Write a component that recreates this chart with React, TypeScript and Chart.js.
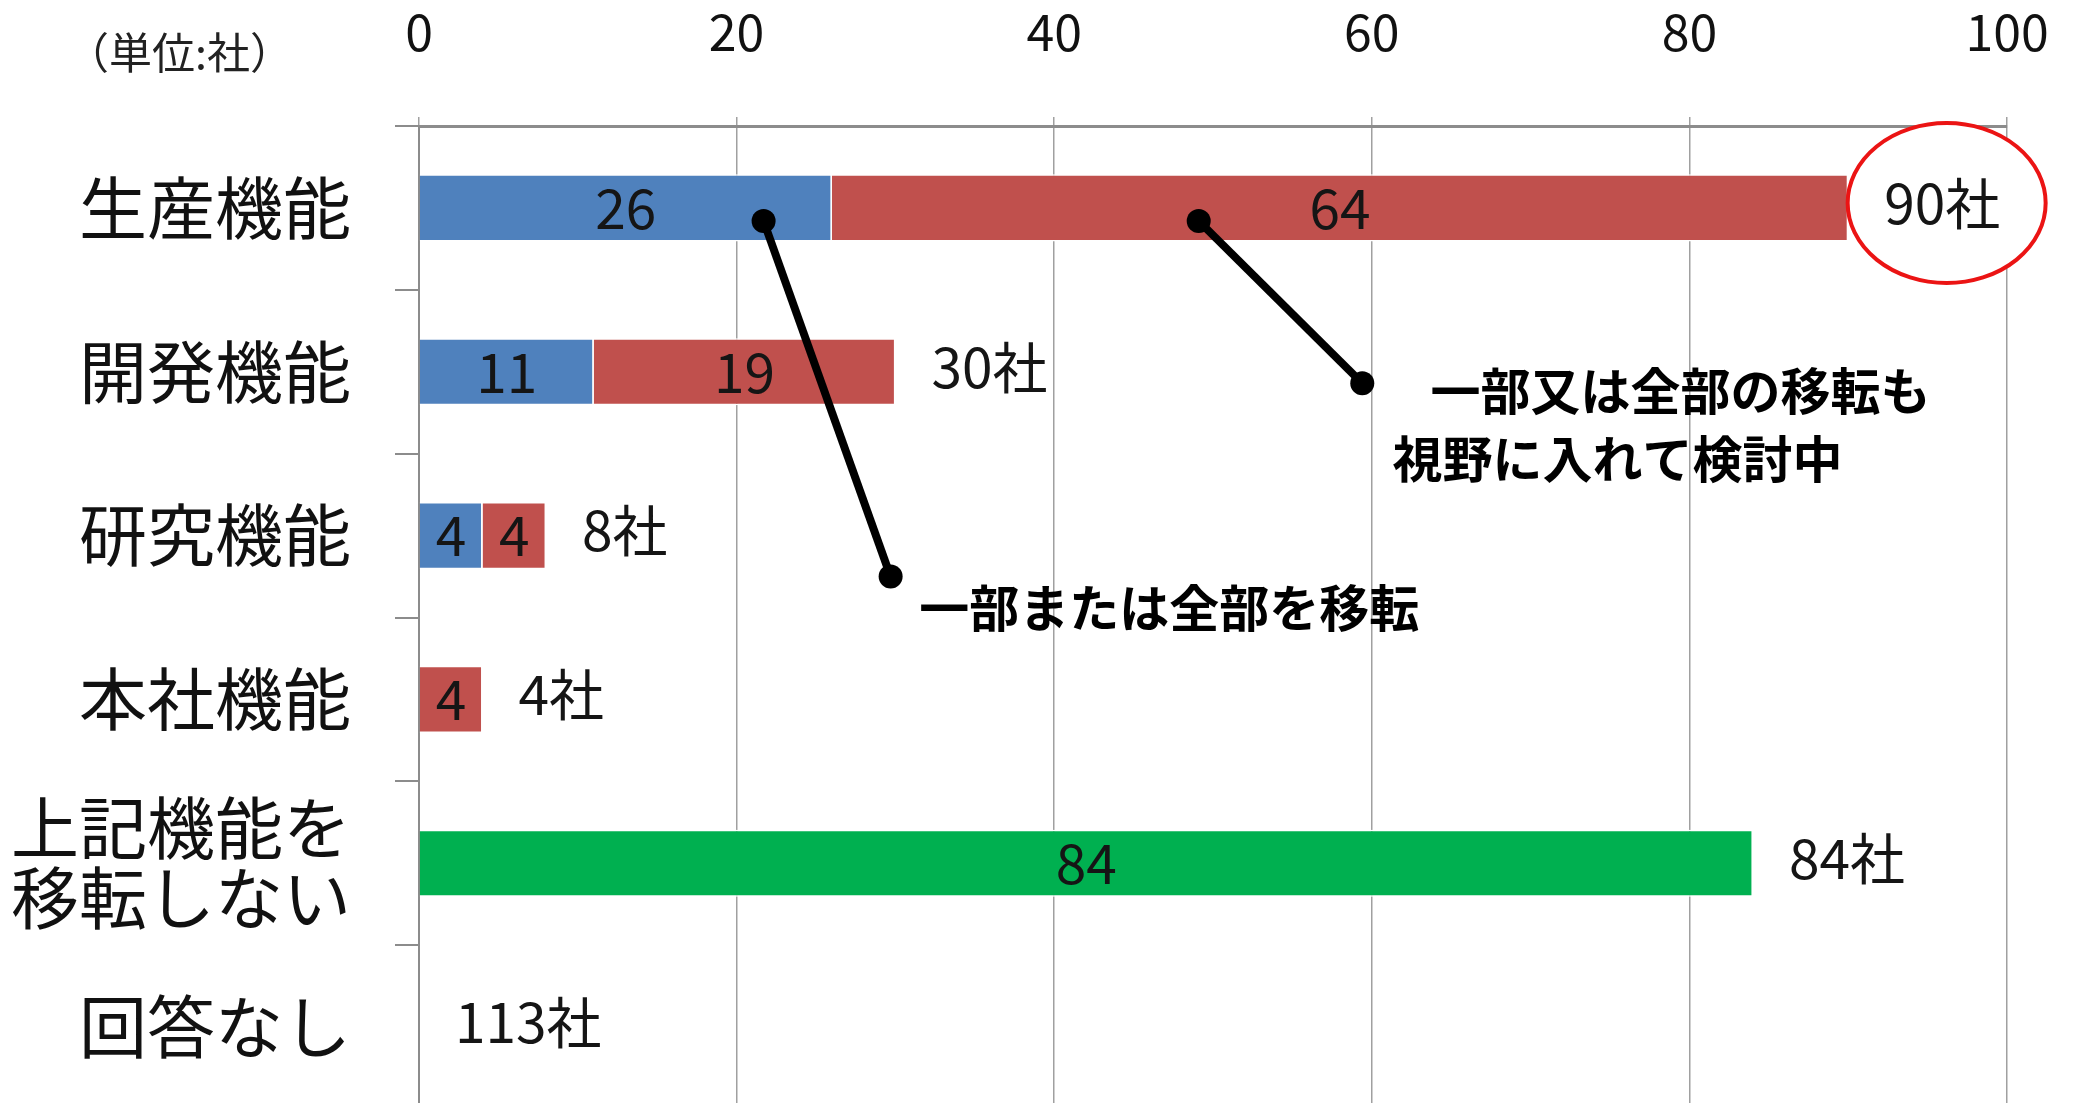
import React, { useEffect, useRef } from 'react';
import { Chart, registerables } from 'chart.js';

Chart.register(...registerables);

// ---- data ----
const categories: (string | string[])[] = ['生産機能', '開発機能', '研究機能', '本社機能', ['上記機能を', '移転しない'], '回答なし'];
const movePartOrAll = [26, 11, 4, null, null, null];      // 一部または全部を移転
const considerMove = [64, 19, 4, 4, null, null];           // 一部又は全部の移転も視野に入れて検討中
const noMove = [null, null, null, null, 84, null];         // 上記機能を移転しない
const totalCompanies = [90, 30, 8, 4, 84, 113];
const xMin = 0;
const xMax = 100;
const xStep = 20;
const unitLabel = '（単位:社）';
const totalSuffix = '社';

// callouts, anchored in data coordinates [value, category index]
const calloutMove = { from: [21.7, 0.08], to: [29.7, 2.25], lines: ['一部または全部を移転'], textAt: [[31.5, 2.44]] };
const calloutConsider = {
  from: [49.1, 0.08],
  to: [59.4, 1.07],
  lines: ['一部又は全部の移転も', '視野に入れて検討中'],
  textAt: [[63.7, 1.12], [61.3, 1.53]],
};
const highlightAt = [96.2, -0.03];

const FONT = "'Noto Sans CJK JP', 'Noto Sans', sans-serif";

const overlayPlugin = {
  id: 'overlay',
  afterDatasetsDraw(chart: any) {
    const ctx: CanvasRenderingContext2D = chart.ctx;
    const xs = chart.scales.x;
    const ys = chart.scales.y;
    const px = (v: number) => xs.getPixelForValue(v);
    const py = (i: number) => ys.getPixelForValue(i);
    ctx.save();

    // highlight ellipse
    ctx.beginPath();
    ctx.ellipse(px(highlightAt[0]), py(highlightAt[1]), 99, 80, 0, 0, Math.PI * 2);
    ctx.fillStyle = '#ffffff';
    ctx.fill();
    ctx.lineWidth = 4;
    ctx.strokeStyle = 'rgb(235,20,20)';
    ctx.stroke();

    // in-bar values
    ctx.fillStyle = '#151515';
    ctx.font = `55px ${FONT}`;
    ctx.textAlign = 'center';
    ctx.textBaseline = 'middle';
    chart.data.datasets.forEach((ds: any, di: number) => {
      const meta = chart.getDatasetMeta(di);
      meta.data.forEach((el: any, i: number) => {
        const v = ds.data[i];
        if (v == null) return;
        const p = el.getProps(['x', 'base', 'y'], true);
        ctx.fillText(String(v), (p.x + p.base) / 2, p.y);
      });
    });

    // totals
    ctx.textAlign = 'left';
    categories.forEach((_, i) => {
      let end = 0;
      chart.data.datasets.forEach((ds: any) => {
        const v = ds.data[i];
        if (v != null) end += v;
      });
      ctx.fillText(`${totalCompanies[i]}${totalSuffix}`, px(end) + 36, py(i) - 5);
    });

    // unit label
    ctx.font = `43px ${FONT}`;
    ctx.fillStyle = '#222';
    ctx.fillText(unitLabel, 66, 53);

    // callouts
    [calloutMove, calloutConsider].forEach((c) => {
      const x1 = px(c.from[0]), y1 = py(c.from[1]);
      const x2 = px(c.to[0]), y2 = py(c.to[1]);
      ctx.beginPath();
      ctx.moveTo(x1, y1);
      ctx.lineTo(x2, y2);
      ctx.lineWidth = 8;
      ctx.strokeStyle = '#000';
      ctx.stroke();
      ctx.fillStyle = '#000';
      [[x1, y1], [x2, y2]].forEach(([x, y]) => {
        ctx.beginPath();
        ctx.arc(x, y, 12, 0, Math.PI * 2);
        ctx.fill();
      });
      ctx.font = `bold 50px ${FONT}`;
      ctx.textAlign = 'left';
      ctx.textBaseline = 'middle';
      c.lines.forEach((t, k) => {
        ctx.fillText(t, px(c.textAt[k][0]), py(c.textAt[k][1]));
      });
    });

    ctx.restore();
  },
};

export default function App() {
  const ref = useRef<HTMLCanvasElement | null>(null);
  useEffect(() => {
    if (!ref.current) return;
    const barBase = { borderColor: '#ffffff', borderWidth: 1.5, barPercentage: 0.41, categoryPercentage: 1 };
    const chart = new Chart(ref.current, {
      type: 'bar',
      data: {
        labels: categories as any,
        datasets: [
          { label: '一部または全部を移転', data: movePartOrAll, backgroundColor: '#4F81BD', ...barBase },
          { label: '一部又は全部の移転も視野に入れて検討中', data: considerMove, backgroundColor: '#C0504D', ...barBase },
          { label: '上記機能を移転しない', data: noMove, backgroundColor: '#00B050', ...barBase },
        ] as any,
      },
      options: {
        indexAxis: 'y',
        responsive: false,
        animation: false,
        layout: { padding: { left: 0, right: 73, top: 0, bottom: 1 } },
        plugins: { legend: { display: false }, tooltip: { enabled: false } },
        scales: {
          x: {
            type: 'linear',
            position: 'top',
            stacked: true,
            min: xMin,
            max: xMax,
            ticks: { stepSize: xStep, font: { family: FONT, size: 50 }, color: '#111', padding: 55 },
            grid: { color: '#a0a0a0', lineWidth: 1.5, drawTicks: true, tickLength: 9 },
            border: { display: true, color: '#8c8c8c', width: 3 },
            afterFit: (s: any) => { s.height = 126; s.paddingLeft = 0; s.paddingRight = 0; },
          },
          y: {
            type: 'category',
            position: 'left',
            stacked: true,
            offset: true,
            ticks: { font: { family: FONT, size: 68, lineHeight: 1.02 }, color: '#111', padding: 44, autoSkip: false },
            grid: { offset: true, drawOnChartArea: false, drawTicks: true, tickLength: 24, color: '#8c8c8c', lineWidth: 2 },
            border: { display: true, color: '#8c8c8c', width: 2 },
            afterFit: (s: any) => { s.width = 419; s.paddingTop = 0; s.paddingBottom = 0; },
          },
        },
      } as any,
      plugins: [overlayPlugin],
    });
    return () => chart.destroy();
  }, []);

  return (
    <div style={{ position: 'fixed', left: 0, top: 0, width: 2080, height: 1103, overflow: 'hidden', background: '#fff' }}>
      <canvas ref={ref} width={2080} height={1110} style={{ display: 'block', width: 2080, height: 1110 }} />
    </div>
  );
}
